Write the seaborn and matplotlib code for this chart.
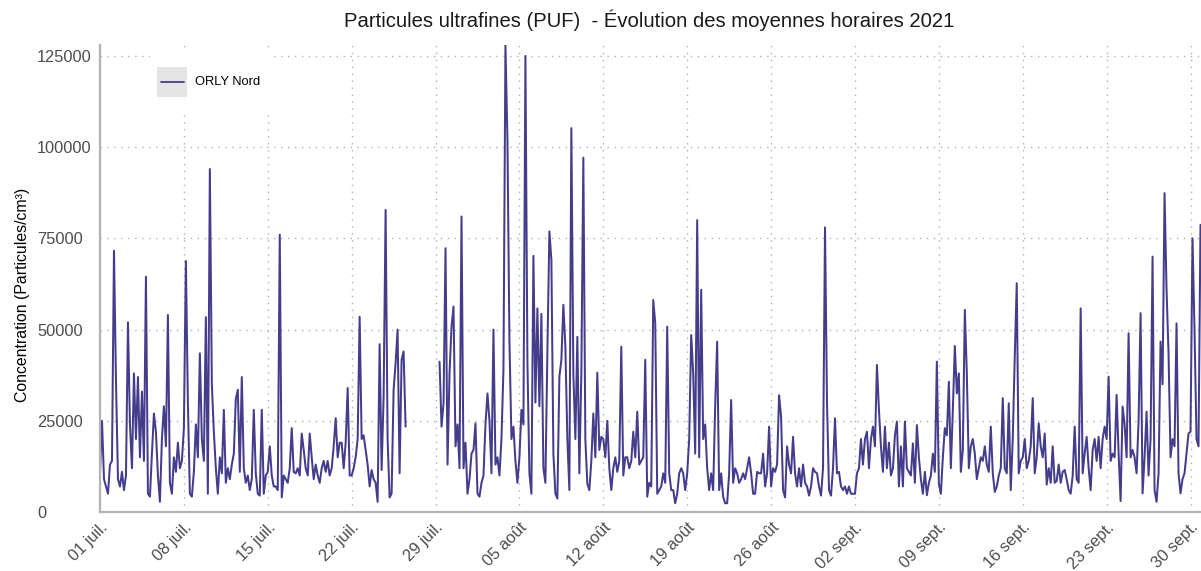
import numpy as np
import pandas as pd
import matplotlib
matplotlib.use('Agg')
import matplotlib.pyplot as plt
from matplotlib.patches import Rectangle
from matplotlib.lines import Line2D
from matplotlib.ticker import FuncFormatter
import seaborn as sns

nan = np.nan

# moyennes horaires, un point toutes les 4 h (00h, 04h, 08h, 12h, 16h, 20h)
juillet = [
    11000, 25000, 9000, 7000, 5000, 13000,
    14000, 71600, 36000, 9000, 7000, 11000,
    6000, 10000, 52000, 24000, 12000, 38000,
    20000, 37000, 15000, 33000, 14000, 64500,
    5000, 4200, 16000, 27000, 22000, 10000,
    2800, 20000, 29000, 18000, 54000, 8000,
    5000, 15000, 11000, 19000, 12000, 14000,
    23000, 68800, 30000, 5000, 4200, 11000,
    24000, 15000, 43500, 20000, 14000, 53400,
    5000, 94000, 35000, 22000, 12000, 5000,
    15000, 10600, 28000, 8000, 12000, 9000,
    13000, 16000, 31000, 33500, 11000, 37000,
    12000, 8000, 10000, 6000, 9000, 28000,
    10600, 5000, 4500, 28000, 5000, 10000,
    11000, 18000, 10000, 7000, 7000, 6000,
    76000, 4000, 10000, 9000, 8000, 12000,
    23000, 11000, 10600, 12000, 10000, 21500,
    17000, 12000, 10000, 21500, 15000, 9000,
    13000, 10000, 8000, 12000, 14000, 11000,
    14000, 10000, 12000, 18000, 25700, 15000,
    19000, 19000, 12000, 19000, 34000, 10000,
    10000, 12000, 15000, 20000, 53500, 20000,
    21000, 17000, 13000, 7000, 11500, 9000,
    8000, 2800, 46000, 11500, 31600, 82800,
    20000, 4000, 5000, 33500, 40800, 50000,
    10600, 41700, 44000, 23400, nan, nan,
    nan, nan, nan, nan, nan, nan,
    nan, nan, nan, nan, nan, nan,
    nan, nan, 41200, 23400, 29800, 72300,
    13000, 38000, 50800, 56300, 18000, 24000,
    12000, 81000, 12000, 19000, 5000, 9000,
]

aout = [
    16000, 17000, 24300, 5000, 4200, 8000,
    10000, 24000, 32500, 25000, 10600, 50000,
    13000, 15000, 10000, 20000, 39000, 128000,
    102000, 47000, 20000, 23400, 14000, 8000,
    15000, 28000, 24000, 125000, 41200, 10600,
    5000, 70200, 30000, 55800, 29000, 54300,
    12000, 8000, 44000, 76900, 69100, 16000,
    5100, 3700, 37100, 41700, 56800, 45300,
    20000, 6000, 105200, 38000, 20000, 48000,
    10600, 38000, 97100, 20000, 7700, 6000,
    14000, 27000, 15000, 38200, 17000, 20600,
    20000, 15000, 25000, 12000, 6000, 12000,
    15000, 11000, 14000, 45300, 10000, 15000,
    15000, 12000, 14000, 22000, 15000, 27500,
    13000, 14000, 15000, 41700, 4200, 8000,
    7000, 58100, 51700, 5000, 6000, 7000,
    10600, 8000, 50800, 10600, 6000, 6000,
    2400, 5000, 10600, 12000, 10600, 6000,
    10600, 20000, 48500, 38000, 16000, 80000,
    15000, 60900, 20000, 24000, 12000, 6000,
    10600, 6000, 28900, 46700, 6000, 10600,
    4200, 2400, 2400, 10600, 30700, 8000,
    12000, 10600, 8000, 9000, 10600, 9000,
    12000, 15000, 10600, 5000, 5000, 11000,
    10600, 10600, 16000, 7000, 10600, 23400,
    7000, 12000, 11000, 13000, 32000, 26100,
    6000, 4000, 18000, 13000, 10600, 20600,
    10600, 7000, 12000, 7000, 13000, 8000,
    7000, 4500, 7000, 12000, 11000, 10600,
    7000, 4500, 12000, 78000, 30000, 6000,
    4500, 12000, 25700, 10600, 11000, 7000,
]

septembre = [
    6000, 7000, 5000, 7000, 5000, 5000,
    5000, 10600, 12000, 20000, 13000, 20000,
    22000, 12000, 20000, 23400, 18000, 40300,
    28000, 18000, 11000, 23400, 12000, 19000,
    10000, 12000, 21000, 24800, 7000, 18000,
    7000, 24800, 12000, 11000, 10000, 18800,
    8000, 23800, 15000, 9000, 5000, 11000,
    4600, 8000, 10000, 16000, 11000, 41200,
    7800, 5000, 15000, 23000, 21000, 35700,
    12000, 28000, 45500, 32500, 38000, 11000,
    17000, 55400, 38000, 12000, 18000, 20000,
    16000, 9000, 12000, 15000, 14000, 18000,
    13000, 11000, 23400, 10600, 5500, 7000,
    10000, 12000, 31200, 12000, 10600, 29800,
    6000, 20000, 42600, 62700, 10600, 14000,
    15000, 20000, 12000, 14000, 18000, 31200,
    10600, 15000, 24300, 18000, 15000, 21500,
    7500, 12000, 8000, 18000, 8000, 8500,
    13000, 8000, 11000, 11500, 9000, 6000,
    5000, 10000, 23400, 9000, 8000, 55800,
    10600, 16000, 20600, 12000, 6000, 17000,
    20000, 14000, 20600, 12000, 20000, 23400,
    20000, 37100, 14000, 16000, 15000, 32100,
    16000, 3000, 28900, 24000, 15000, 49000,
    15000, 17000, 15000, 10600, 25000, 54500,
    5100, 15000, 27500, 10000, 20000, 70000,
    6000, 2800, 10600, 46700, 35000, 87400,
    60900, 43500, 15000, 20000, 18000, 51700,
    10600, 5100, 9000, 10600, 16000, 21500,
    22000, 75000, 50000, 20000, 18000, 78700,
]

station = 'ORLY Nord'
titre = 'Particules ultrafines (PUF)  - Évolution des moyennes horaires 2021'
mois_fr = {7: 'juil.', 8: 'août', 9: 'sept.'}
yticks = [0, 25000, 50000, 75000, 100000, 125000]

valeurs = juillet + aout + septembre
dates = pd.date_range('2021-07-01', periods=len(valeurs), freq='4h')
df = pd.DataFrame({'date': dates, 'puf': valeurs})
df['segment'] = df['puf'].isna().cumsum()   # coupe la ligne sur la période sans mesure
df = df.dropna()

sns.set_theme(style='white')
plt.rcParams['font.family'] = ['Liberation Sans', 'DejaVu Sans']

couleur = '#463c8c'
fig = plt.figure(figsize=(12.01, 5.71), dpi=100)
ax = fig.add_axes([100 / 1201, 59 / 571, 1100.5 / 1201, 467 / 571])

sns.lineplot(data=df, x='date', y='puf', units='segment', estimator=None,
             color=couleur, lw=1.45, ax=ax, legend=False)

ax.set_xlim(pd.Timestamp('2021-07-01'), pd.Timestamp('2021-09-30 20:00'))
ax.set_ylim(0, 128000)
ax.set_yticks(yticks)
ax.yaxis.set_major_formatter(FuncFormatter(lambda v, p: f'{int(v)}'))
ticks = pd.date_range('2021-07-01', '2021-09-30', freq='7D')
ax.set_xticks(ticks)
ax.set_xticklabels([f'{d.day:02d} {mois_fr[d.month]}' for d in ticks],
                   rotation=45, ha='right', va='top', rotation_mode='anchor')

ax.set_axisbelow(True)
ax.grid(True, color='#b0b0b0', linestyle=(0, (1, 4)), linewidth=1.0)
for s in ['top', 'right']:
    ax.spines[s].set_visible(False)
for s in ['left', 'bottom']:
    ax.spines[s].set_color('#b3b3b3')
    ax.spines[s].set_linewidth(1.6)

ax.tick_params(axis='both', length=3.6, width=1, color='#333333',
               labelcolor='#4d4d4d', labelsize=11.8)
ax.tick_params(axis='x', pad=2)
ax.tick_params(axis='y', pad=41.8)
for lab in ax.get_yticklabels():
    lab.set_horizontalalignment('left')
ax.set_xlabel('')
ax.set_ylabel('')

fig.text(23 / 1201, 1 - 295 / 571, 'Concentration (Particules/cm³)', rotation=90,
         ha='center', va='center', fontsize=11.4, color='black')
fig.text(649 / 1201, 1 - 20 / 571, titre, ha='center', va='center',
         fontsize=14.6, color='#1a1a1a')

# légende façon ggplot : fond blanc, carré gris, trait de la série
fig.add_artist(Rectangle((150 / 1201, 1 - 110 / 571), 122 / 1201, 58 / 571,
                         transform=fig.transFigure, facecolor='white',
                         edgecolor='none', zorder=1))
fig.add_artist(Rectangle((157 / 1201, 1 - 97 / 571), 30 / 1201, 30 / 571,
                         transform=fig.transFigure, facecolor='#e5e5e5',
                         edgecolor='none', zorder=2))
fig.add_artist(Line2D([161 / 1201, 184 / 1201], [1 - 82 / 571, 1 - 82 / 571],
                      transform=fig.transFigure, color=couleur, lw=1.3, zorder=3))
fig.text(195 / 1201, 1 - 82 / 571, station, ha='left', va='center',
         fontsize=9.3, color='black')

fig.savefig('out.png', dpi=100)
